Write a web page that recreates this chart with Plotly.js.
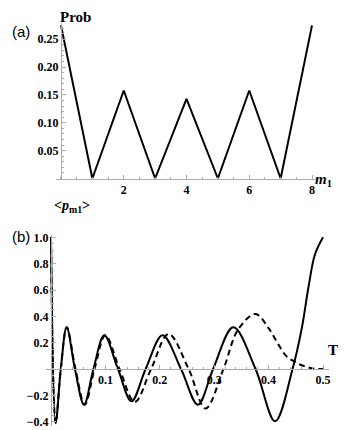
<!DOCTYPE html>
<html>
<head>
<meta charset="utf-8">
<script src="https://cdn.plot.ly/plotly-3.0.1.min.js"></script>
<style>
  html, body { margin: 0; padding: 0; background: #fff; }
  #chart { width: 346px; height: 430px; }
</style>
</head>
<body>
<div id="chart"></div>
<script>
// (a) probability over m1
const m1Values = [0, 1, 2, 3, 4, 5, 6, 7, 8];
const probValues = [0.275, 0, 0.158, 0, 0.143, 0, 0.158, 0, 0.275];

// (b) <p_m1> over T, solid curve
const tSolid = [0, 0.0086, 0.018, 0.0288, 0.044, 0.0607, 0.078, 0.098, 0.123, 0.148,
                0.174, 0.205, 0.239, 0.270, 0.298, 0.335, 0.376, 0.412, 0.444,
                0.461, 0.473, 0.485, 0.5];
const pSolid = [1.0, -0.41, 0, 0.317, 0, -0.271, 0, 0.256, 0, -0.245,
                0, 0.256, 0, -0.271, 0, 0.317, 0, -0.397, 0,
                0.31, 0.615, 0.868, 1.0];

// (b) dashed curve
const tDashed = [0, 0.0086, 0.018, 0.029, 0.045, 0.062, 0.08, 0.100, 0.126, 0.154,
                 0.184, 0.216, 0.253, 0.284, 0.317, 0.344, 0.376, 0.40, 0.418,
                 0.433, 0.447, 0.461, 0.48, 0.5];
const pDashed = [1.0, -0.41, 0, 0.317, 0, -0.271, 0, 0.256, 0, -0.25,
                 0, 0.266, 0, -0.30, 0, 0.30, 0.418, 0.31, 0.185,
                 0.096, 0.058, 0.028, 0.005, 0.0];

const topTicks = [0.05, 0.10, 0.15, 0.20, 0.25];
const topXTicks = [2, 4, 6, 8];
const botYTicks = [-0.4, -0.2, 0.2, 0.4, 0.6, 0.8, 1.0];
const botXTicks = [0.1, 0.2, 0.3, 0.4, 0.5];

const W = 346, H = 430;
const px = v => v / W;
const py = v => (H - v) / H;

const serif = 'Liberation Serif';
const tickFont = {family: serif, size: 12, color: '#000', weight: 'bold'};

const data = [
  {
    x: m1Values, y: probValues, xaxis: 'x', yaxis: 'y',
    mode: 'lines', line: {color: '#000', width: 2}
  },
  {
    x: tSolid, y: pSolid, xaxis: 'x2', yaxis: 'y2',
    mode: 'lines', line: {color: '#000', width: 2, shape: 'spline', smoothing: 1}
  },
  {
    x: tDashed, y: pDashed, xaxis: 'x2', yaxis: 'y2',
    mode: 'lines', line: {color: '#000', width: 2, dash: '6px,4px', shape: 'spline', smoothing: 1}
  }
];

const axisCommon = {
  showgrid: false, zeroline: false, showline: true,
  linecolor: '#aaa', linewidth: 1,
  ticks: 'inside', ticklen: 4, tickcolor: '#aaa',
  tickfont: tickFont
};

const layout = {
  width: W, height: H,
  margin: {l: 0, r: 0, t: 0, b: 0},
  showlegend: false,
  paper_bgcolor: '#fff', plot_bgcolor: 'rgba(0,0,0,0)',
  xaxis: Object.assign({}, axisCommon, {
    domain: [px(56), px(316)], range: [-0.159, 8.127], anchor: 'y',
    tickmode: 'array', tickvals: topXTicks, ticktext: topXTicks.map(String),
    minor: {dtick: 0.5, tick0: 0, ticklen: 2, tickcolor: '#aaa', ticks: 'inside'}
  }),
  yaxis: Object.assign({}, axisCommon, {
    domain: [py(178.5), py(23)], range: [0, 0.2792],
    anchor: 'free', position: px(61),
    tickmode: 'array', tickvals: topTicks, ticktext: topTicks.map(v => v.toFixed(2)),
    minor: {dtick: 0.01, tick0: 0, ticklen: 2, tickcolor: '#aaa', ticks: 'inside'}
  }),
  xaxis2: Object.assign({}, axisCommon, {
    domain: [px(46), px(329)], range: [-0.0092, 0.511],
    anchor: 'free', position: py(369),
    tickmode: 'array', tickvals: botXTicks, ticktext: botXTicks.map(v => v.toFixed(1)),
    minor: {dtick: 0.02, tick0: 0, ticklen: 2, tickcolor: '#aaa', ticks: 'inside'}
  }),
  yaxis2: Object.assign({}, axisCommon, {
    domain: [py(425.6), py(234.7)], range: [-0.43, 1.02],
    anchor: 'free', position: px(51),
    tickmode: 'array', tickvals: botYTicks, ticktext: botYTicks.map(v => v.toFixed(1).replace('-', '\u2212')),
    minor: {dtick: 0.05, tick0: 0, ticklen: 2, tickcolor: '#aaa', ticks: 'inside'}
  }),
  annotations: [
    {text: 'Prob', x: px(58), y: py(7), xref: 'paper', yref: 'paper', showarrow: false,
     font: {family: serif, size: 15, color: '#000', weight: 'bold'}},
    {text: '(a)', x: px(10), y: py(20.5), xref: 'paper', yref: 'paper', showarrow: false,
     font: {family: 'Liberation Sans', size: 15, color: '#000'}},
    {text: '<i>m</i><sub>1</sub>', x: px(334), y: py(180), xref: 'paper', yref: 'paper', showarrow: false,
     font: {family: serif, size: 15, color: '#000', weight: 'bold'}},
    {text: '&lt;<i>p</i><sub>m1</sub>&gt;', x: px(52), y: py(207), xref: 'paper', yref: 'paper', showarrow: false,
     font: {family: serif, size: 14, color: '#000', weight: 'bold'}},
    {text: '(b)', x: px(10), y: py(236), xref: 'paper', yref: 'paper', showarrow: false,
     font: {family: 'Liberation Sans', size: 15, color: '#000'}},
    {text: 'T', x: px(340), y: py(360), xref: 'paper', yref: 'paper', showarrow: false,
     font: {family: serif, size: 15, color: '#000', weight: 'bold'}}
  ]
};

Plotly.newPlot('chart', data, layout, {displayModeBar: false, staticPlot: true});
</script>
</body>
</html>
